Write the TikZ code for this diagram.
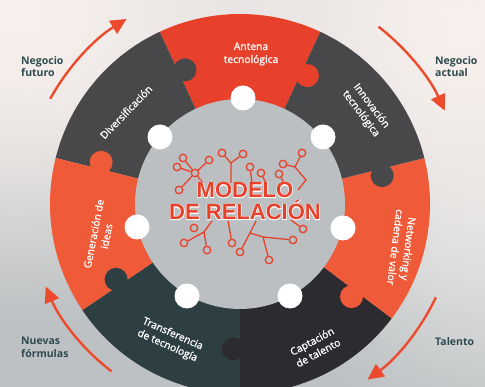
\documentclass[tikz,border=0pt]{standalone}
\usepackage{fontspec}
\setmainfont{Open Sans}
\newfontfamily\labelfont{Open Sans}[FakeBold=1.2]
\newfontfamily\titlefont{Liberation Sans}
\newfontfamily\titlerimfont{Liberation Sans}[FakeBold=6]
\usetikzlibrary{arrows.meta,calc,fadings}

\definecolor{bgGrey}{HTML}{BDC1C3}
\definecolor{hubGrey}{HTML}{BBBFC1}
\definecolor{antRed}{HTML}{E8412B}
\definecolor{ideaOrange}{HTML}{EF5A38}
\definecolor{slateGrey}{HTML}{48484B}
\definecolor{nightGrey}{HTML}{2C2B30}
\definecolor{deepTeal}{HTML}{2D3F43}
\definecolor{inkTeal}{HTML}{2F4A4F}
\definecolor{flowRed}{HTML}{EC4A2C}
\definecolor{glowWhite}{HTML}{F7F0ED}
\definecolor{glowPale}{HTML}{DCDDDD}

% a soft round mask: opaque centre, smoothly transparent towards the rim
\pgfdeclareradialshading{spotmask}{\pgfpoint{0bp}{0bp}}{%
  color(0bp)=(white); color(5bp)=(white!95!black);
  color(10bp)=(white!78!black); color(15bp)=(white!50!black);
  color(19bp)=(white!26!black); color(22bp)=(white!10!black);
  color(25bp)=(black); color(50bp)=(black)}
\pgfdeclarefading{softspot}{\pgfuseshading{spotmask}}

\tikzset{
  glow/.style={fill=#1, path fading=softspot},
  seglabel/.style={text=white, align=center, inner sep=0pt,
    font=\labelfont\fontsize{10.3}{13}\selectfont},
  sidelabel/.style={text=inkTeal, align=left, anchor=north west, inner sep=0pt,
    font=\bfseries\fontsize{10.5}{12.5}\selectfont},
  flow/.style={draw=flowRed, line width=2.4pt,
    -{Triangle[length=16pt,width=15pt]}},
  socket/.style={fill=white, circle, minimum size=25pt, inner sep=0pt},
  wire/.style={draw=antRed, line width=1.3pt},
  pad/.style={circle, draw=antRed, line width=1.3pt, fill=hubGrey,
    minimum size=7.5pt, inner sep=0pt},
  titletext/.style={align=center, inner sep=0pt,
    font=\titlefont\bfseries\fontsize{22}{22}\selectfont},
  titlerim/.style={align=center, inner sep=0pt, text=white,
    font=\titlerimfont\bfseries\fontsize{22}{22}\selectfont},
}

% one piece of the puzzle ring: colour, start angle, end angle
\newcommand{\ringpiece}[3]{%
  \fill[#1] ($(O)+(#2:190)$) arc[start angle=#2, end angle=#3, radius=190]
    -- ($(O)+(#3:100)$) arc[start angle=#3, end angle=#2, radius=100] -- cycle;}
% a round puzzle tab: colour, angle
\newcommand{\ringtab}[2]{\fill[#1] ($(O)+(#2:145)$) circle (11.5);}

\begin{document}
\begin{tikzpicture}[x=1pt,y=1pt]
\useasboundingbox (0,0) rectangle (485,387);
\clip (0,0) rectangle (485,387);

% backdrop with soft light patches
\fill[bgGrey] (0,0) rectangle (485,387);
\fill[glow=glowPale] (495,165) circle (230);
\fill[glow=glowPale] (240,395) circle (260);
\fill[glow=glowWhite] (15,375) circle (320);
\fill[glow=glowWhite] (470,365) circle (300);

\coordinate (O) at (240,183);

% ring pieces
\ringpiece{antRed}{65}{115}
\ringpiece{slateGrey}{115}{166}
\ringpiece{ideaOrange}{166}{214}
\ringpiece{deepTeal}{214}{270}
\ringpiece{nightGrey}{-90}{-37}
\ringpiece{ideaOrange}{-37}{14}
\ringpiece{slateGrey}{14}{65}

% interlocking tabs
\ringtab{slateGrey}{112.3}
\ringtab{antRed}{62.3}
\ringtab{slateGrey}{11.3}
\ringtab{ideaOrange}{-39.7}
\ringtab{nightGrey}{-92.7}
\ringtab{deepTeal}{-148.7}
\ringtab{ideaOrange}{163.3}

% central hub
\fill[hubGrey] (O) circle (105);

% sockets around the hub
\node[socket] (s1) at (243,289) {};
\node[socket] (s2) at (160,250) {};
\node[socket] (s3) at (323,250) {};
\node[socket] (s4) at (137,160) {};
\node[socket] (s5) at (343,159) {};
\node[socket] (s6) at (187,91) {};
\node[socket] (s7) at (290,91) {};

% circuit traces behind the title
\begin{scope}[shift={(0,387)},yscale=-1]
  % upper traces
  \node[pad] (p1) at (183,158) {};
  \node[pad] (p2) at (177,167) {};
  \node[pad] (p3) at (179,190) {};
  \node[pad] (p4) at (209,160) {};
  \node[pad] (h1) at (195,173) {};
  \coordinate (e1) at (203,183);
  \draw[wire] (p1) -- (h1) (p2) -- (h1) (p3) -- (h1) (p4) -- (h1) (h1) -- (e1);
  \node[pad] (p5) at (222,153) {};
  \node[pad] (p6) at (243,154) {};
  \coordinate (j2) at (231,163);
  \coordinate (e2) at (231,183);
  \draw[wire] (p5) -- (j2) (p6) -- (j2) (j2) -- (e2);
  \node[pad] (p7) at (250,167) {};
  \coordinate (e3) at (252,183);
  \draw[wire] (p7) -- (e3);
  \node[pad] (p8) at (261,173) {};
  \coordinate (e4) at (266,183);
  \draw[wire] (p8) -- (e4);
  \node[pad] (p9) at (279,174) {};
  \coordinate (e9) at (284,183);
  \draw[wire] (p9) -- (e9);
  \node[pad] (p10) at (283,164) {};
  \node[pad] (p11) at (302,153) {};
  \coordinate (j5) at (295,167);
  \coordinate (k5) at (306,180);
  \coordinate (e5) at (298,190);
  \draw[wire] (p10) -- (j5) (p11) -- (j5) (j5) -- (k5) -- (e5);
  % lower traces
  \coordinate (j6) at (204,232);
  \coordinate (e6) at (212,221);
  \node[pad] (p12) at (184,243) {};
  \node[pad] (p13) at (207,250) {};
  \node[pad] (p14) at (194,228) {};
  \draw[wire] (e6) -- (j6) (j6) -- (p12) (j6) -- (p13);
  \node[pad] (p15) at (232,243) {};
  \coordinate (e7) at (228,221);
  \draw[wire] (e7) -- (p15);
  \coordinate (j7) at (250,233);
  \coordinate (e8) at (256,221);
  \coordinate (j8) at (263,237);
  \node[pad] (p16) at (240,252) {};
  \node[pad] (p17) at (269,260) {};
  \node[pad] (p18) at (293,240) {};
  \draw[wire] (e8) -- (j7) (j7) -- (p16) (j7) -- (j8) (j8) -- (p17) (j8) -- (p18);
  \node[pad] (p19) at (303,229) {};
  \coordinate (e10) at (291,220);
  \draw[wire] (e10) -- (p19);
\end{scope}

% title with a thin white rim
\node[titlerim] (titlerim) at (245,186) {MODELO\\DE RELACIÓN};
\node[titletext, text=antRed] (title) at (245,186) {MODELO\\DE RELACIÓN};

% piece labels
\node[seglabel] (antena) at (251,333) {Antena\\tecnológica};
\node[seglabel, rotate=46] (divers) at (126,275) {Diversificación};
\node[seglabel, rotate=-53] (innov) at (366,277) {Innovación\\tecnológica};
\node[seglabel, rotate=-97] (netw) at (402,139) {Networking y\\cadena de valor};
\node[seglabel, rotate=28] (capta) at (315,40) {Captación\\de talento};
\node[seglabel, rotate=-24] (transf) at (170,47) {Transferencia\\de tecnología};
\node[seglabel, rotate=79] (gener) at (100,152) {Generación de\\ideas};

% cycle arrows around the ring
\coordinate (f1) at ($(O)+(151:217)$);
\draw[flow] (f1) arc[start angle=151, end angle=121.5, radius=217];
\coordinate (f2) at ($(O)+(52:225)$);
\draw[flow] (f2) arc[start angle=52, end angle=24.5, radius=225];
\coordinate (f3) at ($(O)+(-25.5:217)$);
\draw[flow] (f3) arc[start angle=-25.5, end angle=-54, radius=217];
\coordinate (f4) at ($(O)+(-127.5:211)$);
\draw[flow] (f4) arc[start angle=-127.5, end angle=-157, radius=211];

% outer labels
\node[sidelabel] (fut) at (21,331) {Negocio\\futuro};
\node[sidelabel] (act) at (435,331) {Negocio\\actual};
\node[sidelabel] (nuev) at (21,50) {Nuevas\\fórmulas};
\node[sidelabel] (tal) at (435,50) {Talento};
\end{tikzpicture}
\end{document}
